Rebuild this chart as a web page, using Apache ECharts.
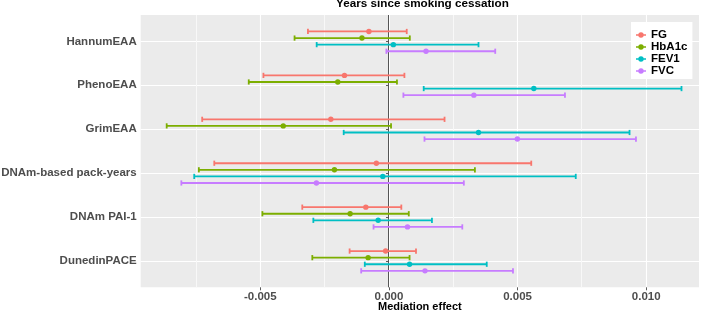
<!DOCTYPE html>
<html>
<head>
<meta charset="utf-8">
<script src="https://cdn.jsdelivr.net/npm/echarts@6/dist/echarts.min.js"></script>
<style>html,body{margin:0;padding:0;background:#fff}#c{width:708px;height:313px}</style>
</head>
<body>
<div id="c"></div>
<script>
const categories = ['HannumEAA', 'PhenoEAA', 'GrimEAA', 'DNAm-based pack-years', 'DNAm PAI-1', 'DunedinPACE'];
const seriesNames = ['FG', 'HbA1c', 'FEV1', 'FVC'];
const xTicks = [-0.005, 0, 0.005, 0.010];
const xMinorTicks = [-0.0075, -0.0025, 0.0025, 0.0075];

const fgEst = [-0.00078, -0.00173, -0.00226, -0.00049, -0.00090, -0.00013];
const fgLow = [-0.00315, -0.00488, -0.00726, -0.00679, -0.00337, -0.00153];
const fgHigh = [0.00069, 0.00060, 0.00216, 0.00553, 0.00048, 0.00105];

const hbEst = [-0.00105, -0.00199, -0.00411, -0.00212, -0.00151, -0.00081];
const hbLow = [-0.00367, -0.00545, -0.00864, -0.00739, -0.00492, -0.00298];
const hbHigh = [0.00081, 0.00031, 0.00008, 0.00334, 0.00077, 0.00080];

const fev1Est = [0.00017, 0.00563, 0.00348, -0.00024, -0.00042, 0.00080];
const fev1Low = [-0.00281, 0.00135, -0.00176, -0.00757, -0.00294, -0.00094];
const fev1High = [0.00348, 0.01137, 0.00935, 0.00726, 0.00167, 0.00380];

const fvcEst = [0.00144, 0.00330, 0.00499, -0.00282, 0.00072, 0.00140];
const fvcLow = [-0.00010, 0.00056, 0.00138, -0.00807, -0.00060, -0.00108];
const fvcHigh = [0.00413, 0.00684, 0.00960, 0.00291, 0.00285, 0.00482];

const colors = ['#F8766D', '#7CAE00', '#00BFC4', '#C77CFF'];
const estimates = [fgEst, hbEst, fev1Est, fvcEst];
const lows = [fgLow, hbLow, fev1Low, fvcLow];
const highs = [fgHigh, hbHigh, fev1High, fvcHigh];
const dodge = [-0.225, -0.075, 0.075, 0.225];

const FONT = '"Liberation Sans", Arial, sans-serif';
const chart = echarts.init(document.getElementById('c'), null, {renderer: 'canvas'});

function makeRender(off, color) {
  return function (params, api) {
    const y = api.value(0) + off;
    const pL = api.coord([api.value(2), y]);
    const pH = api.coord([api.value(3), y]);
    const pE = api.coord([api.value(1), y]);
    const cap = 2.6;
    const st = {stroke: color, lineWidth: 1.8, fill: null};
    return {
      type: 'group',
      children: [
        {type: 'line', shape: {x1: pL[0], y1: pL[1], x2: pH[0], y2: pH[1]}, style: st},
        {type: 'line', shape: {x1: pL[0], y1: pL[1] - cap, x2: pL[0], y2: pL[1] + cap}, style: st},
        {type: 'line', shape: {x1: pH[0], y1: pH[1] - cap, x2: pH[0], y2: pH[1] + cap}, style: st},
        {type: 'circle', shape: {cx: pE[0], cy: pE[1], r: 2.7}, style: {fill: color, stroke: null}}
      ]
    };
  };
}

function snapLine(api, cs, value, color, width) {
  const p = api.coord([value, 1]);
  const x = Math.round(p[0] - 0.5) + 0.5;
  return {type: 'line', shape: {x1: x, y1: cs.y, x2: x, y2: cs.y + cs.height},
    style: {stroke: color, lineWidth: width}};
}

const series = [{
  name: 'refLines',
  type: 'custom',
  silent: true,
  z: 1,
  data: [[0]],
  encode: {x: 0},
  renderItem: function (params, api) {
    const cs = params.coordSys;
    const children = xMinorTicks.map(function (v) {
      return snapLine(api, cs, v, '#f8f8f8', 1);
    });
    children.push(snapLine(api, cs, api.value(0), '#555555', 1));
    return {type: 'group', children: children};
  }
}];

seriesNames.forEach(function (name, s) {
  series.push({
    name: name,
    type: 'custom',
    z: 2,
    color: colors[s],
    itemStyle: {color: colors[s]},
    encode: {x: [1, 2, 3], y: 0},
    data: categories.map(function (c, i) {
      return [i + 1, estimates[s][i], lows[s][i], highs[s][i]];
    }),
    renderItem: makeRender(dodge[s], colors[s])
  });
});

const iconPath = 'path://M0 3.2H10V4.8H0Z M7.7 4A2.7 2.7 0 1 1 2.3 4A2.7 2.7 0 1 1 7.7 4Z';

chart.setOption({
  animation: false,
  textStyle: {fontFamily: FONT},
  title: {
    text: 'Years since smoking cessation',
    left: 422.5,
    top: -2,
    padding: 0,
    textAlign: 'center',
    textStyle: {fontSize: 11.7, fontWeight: 'bold', color: '#000', fontFamily: FONT}
  },
  legend: {
    orient: 'vertical',
    left: 631,
    top: 22,
    padding: [7, 5, 2, 5],
    backgroundColor: '#ffffff',
    itemWidth: 10,
    itemHeight: 8,
    itemGap: 0,
    textStyle: {fontSize: 11.5, fontWeight: 'bold', color: '#000', lineHeight: 12, fontFamily: FONT},
    data: seriesNames.map(function (n) { return {name: n, icon: iconPath}; })
  },
  grid: {
    left: 140.7, right: 9, top: 15, bottom: 25.7,
    show: true, backgroundColor: '#EBEBEB', borderWidth: 0,
    containLabel: false,
    outerBoundsMode: 'none'
  },
  xAxis: {
    type: 'value',
    min: -0.00965,
    max: 0.01205,
    position: 'bottom',
    name: 'Mediation effect',
    nameLocation: 'middle',
    nameGap: 14,
    nameMoveOverlap: false,
    nameTextStyle: {fontSize: 11, fontWeight: 'bold', color: '#000', fontFamily: FONT},
    axisLine: {show: false},
    axisTick: {show: true, length: 3, lineStyle: {color: '#333333', width: 0.8}, customValues: xTicks},
    axisLabel: {
      show: true, margin: 4, fontSize: 11.5, fontWeight: 'bold', color: '#4D4D4D', fontFamily: FONT,
      customValues: xTicks,
      formatter: function (v) { return v.toFixed(3); }
    },
    splitLine: {show: true, lineStyle: {color: '#ffffff', width: 1.1}}
  },
  yAxis: {
    type: 'value',
    min: 0.4,
    max: 6.6,
    inverse: true,
    axisLine: {show: false},
    axisTick: {show: true, length: 3, lineStyle: {color: '#333333', width: 0.8}, customValues: [1, 2, 3, 4, 5, 6]},
    axisLabel: {
      show: true, margin: 4, fontSize: 11.5, fontWeight: 'bold', color: '#4D4D4D', fontFamily: FONT,
      customValues: [1, 2, 3, 4, 5, 6],
      formatter: function (v) { return categories[Math.round(v) - 1] || ''; }
    },
    splitLine: {show: true, lineStyle: {color: '#ffffff', width: 1.1}}
  },
  series: series
});
</script>
</body>
</html>
